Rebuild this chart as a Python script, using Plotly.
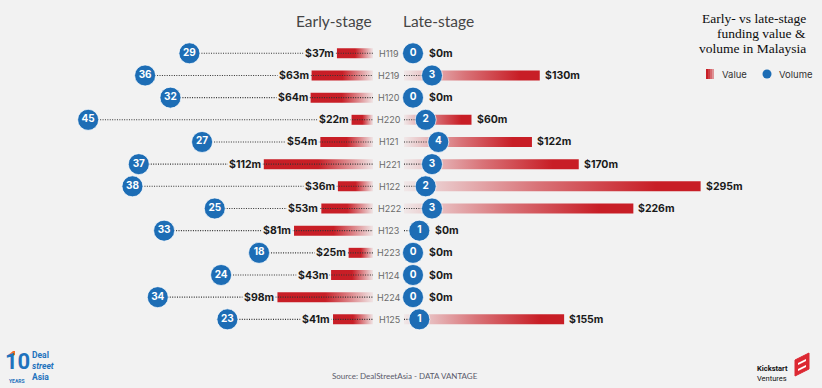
import plotly.graph_objects as go

# ---------------- data ----------------
periods = ["H119", "H219", "H120", "H220", "H121", "H221", "H122",
           "H222", "H123", "H223", "H124", "H224", "H125"]
early_value = [37, 63, 64, 22, 54, 112, 36, 53, 81, 25, 43, 98, 41]      # $m
early_volume = [29, 36, 32, 45, 27, 37, 38, 25, 33, 18, 24, 34, 23]     # deals
late_value = [0, 130, 0, 60, 122, 170, 295, 226, 0, 0, 0, 0, 155]       # $m
late_volume = [0, 3, 0, 2, 4, 3, 2, 3, 1, 0, 0, 0, 1]                   # deals

# ---------------- layout constants (pixels) ----------------
W, H = 822, 388
BG = "rgb(242,242,242)"
RED = "200,30,38"
BLUE = "#1d6db5"
L_ZERO = 373          # left zero line
R_ZERO = 413          # right zero line
R_DOM0 = 392          # right axes domain start
R_BAR_START = 404     # right bar/dotted start (px)
CENTER = 389          # period label centre
VAL_PX = 0.975        # px per $m
VOL_PX = 6.33         # px per deal
ROW0, ROW_STEP = 53.3, 22.17
BAR_HALF = 5.0 / ROW_STEP
CIRCLE_D = 21

# horizontal gradients run from pixel-left (0) to pixel-right (1)
LEFT_CS = [[0, f"rgba({RED},1)"], [0.5, f"rgba({RED},1)"], [1, f"rgba({RED},0.06)"]]
RIGHT_CS = [[0, f"rgba({RED},0.05)"], [0.45, f"rgba({RED},0.6)"], [0.85, f"rgba({RED},1)"],
            [1, f"rgba({RED},1)"]]

VAL_FONT = "Inter, 'Open Sans', sans-serif"
DOTS = dict(color="#333", width=1.1, dash="1px,1.4px")

fig = go.Figure()
n = len(periods)
rows = list(range(n))

# ---------------- bars (gradient filled polygons) ----------------
for i, v in enumerate(early_value):
    fig.add_trace(go.Scatter(
        x=[0, v, v, 0, 0], y=[i - BAR_HALF, i - BAR_HALF, i + BAR_HALF, i + BAR_HALF, i - BAR_HALF],
        mode="lines", fill="toself", line=dict(width=0, color="rgba(0,0,0,0)"),
        fillgradient=dict(type="horizontal", colorscale=LEFT_CS),
        xaxis="x", yaxis="y", hoverinfo="skip", showlegend=False))

r_start = -(R_ZERO - R_BAR_START) / VAL_PX
for i, v in enumerate(late_value):
    if v <= 0:
        continue
    fig.add_trace(go.Scatter(
        x=[r_start, v, v, r_start, r_start],
        y=[i - BAR_HALF, i - BAR_HALF, i + BAR_HALF, i + BAR_HALF, i - BAR_HALF],
        mode="lines", fill="toself", line=dict(width=0, color="rgba(0,0,0,0)"),
        fillgradient=dict(type="horizontal", colorscale=RIGHT_CS),
        xaxis="x2", yaxis="y", hoverinfo="skip", showlegend=False))

# ---------------- dotted connectors ----------------
lx, ly = [], []
for i, c in enumerate(early_volume):
    lx += [c, 0, None]
    ly += [i, i, None]
fig.add_trace(go.Scatter(x=lx, y=ly, mode="lines", line=DOTS,
                         xaxis="x3", yaxis="y", hoverinfo="skip", showlegend=False))

d_start = -(R_ZERO - R_BAR_START) / VOL_PX
rx, ry = [], []
for i, c in enumerate(late_volume):
    rx += [d_start, c, None]
    ry += [i, i, None]
fig.add_trace(go.Scatter(x=rx, y=ry, mode="lines", line=DOTS,
                         xaxis="x4", yaxis="y", hoverinfo="skip", showlegend=False))

# ---------------- volume circles ----------------
circ = dict(size=CIRCLE_D, color=BLUE, line=dict(color="rgba(255,255,255,0.7)", width=1))
num_font = dict(family=VAL_FONT, size=10, color="white", weight="bold")
fig.add_trace(go.Scatter(x=early_volume, y=rows, mode="markers+text", marker=circ,
                         text=[str(c) for c in early_volume], textposition="middle center",
                         textfont=num_font, xaxis="x3", yaxis="y", cliponaxis=False,
                         hoverinfo="skip", showlegend=False))
fig.add_trace(go.Scatter(x=late_volume, y=rows, mode="markers+text", marker=circ,
                         text=[str(c) for c in late_volume], textposition="middle center",
                         textfont=num_font, xaxis="x4", yaxis="y", cliponaxis=False,
                         hoverinfo="skip", showlegend=False))

annotations = []
val_font = dict(family=VAL_FONT, size=10.5, color="#1a1a1a", weight="bold")

# left value labels
for i, v in enumerate(early_value):
    annotations.append(dict(x=v, y=i, xref="x", yref="y", text=f"${v}m", showarrow=False,
                            xanchor="right", yanchor="middle", xshift=-1, font=val_font,
                            bgcolor=BG, borderpad=1))
# right value labels
for i, (v, c) in enumerate(zip(late_value, late_volume)):
    circle_edge = (c * VOL_PX + CIRCLE_D / 2) / VAL_PX
    annotations.append(dict(x=max(v, circle_edge), y=i, xref="x2", yref="y", text=f"${v}m",
                            showarrow=False, xanchor="left", yanchor="middle", xshift=3,
                            font=val_font))
# period labels
for i, p in enumerate(periods):
    annotations.append(dict(x=CENTER / W, y=i, xref="paper", yref="y", text=p, showarrow=False,
                            xanchor="center", yanchor="middle",
                            font=dict(family=VAL_FONT, size=9, color="#6a6a6a")))


def px(xp, yp):
    return xp / W, 1 - yp / H


# headers
for label, xc in [("Early-stage", 334), ("Late-stage", 438)]:
    x0, y0 = px(xc, 21)
    annotations.append(dict(x=x0, y=y0, xref="paper", yref="paper", text=label, showarrow=False,
                            xanchor="center", yanchor="middle",
                            font=dict(family="Lato", size=15.5, color="#454545")))

# right title
for k, line in enumerate(["Early- vs late-stage", "funding value &", "volume in Malaysia"]):
    x0, y0 = px(808, 18 + 15 * k)
    annotations.append(dict(x=x0, y=y0, xref="paper", yref="paper", text=line, showarrow=False,
                            xanchor="right", yanchor="middle",
                            font=dict(family="Liberation Serif", size=13.5, color="#0d0d0d")))

# legend
x0, y0 = px(720, 74)
annotations.append(dict(x=x0, y=y0, xref="paper", yref="paper", text="Value", showarrow=False,
                        xanchor="left", yanchor="middle", font=dict(family=VAL_FONT, size=9.5, color="#333")))
x0, y0 = px(777, 74)
annotations.append(dict(x=x0, y=y0, xref="paper", yref="paper", text="Volume", showarrow=False,
                        xanchor="left", yanchor="middle", font=dict(family=VAL_FONT, size=9.5, color="#333")))

# source
x0, y0 = px(405, 376)
annotations.append(dict(x=x0, y=y0, xref="paper", yref="paper",
                        text="Source: DealStreetAsia - DATA VANTAGE", showarrow=False,
                        xanchor="center", yanchor="middle", font=dict(family="Lato", size=8, color="#5a5a6a")))

# DealStreetAsia logo (text)
DSA = "#1f73bd"
x0, y0 = px(17, 361)
annotations.append(dict(x=x0, y=y0, xref="paper", yref="paper", text="10", showarrow=False,
                        xanchor="center", yanchor="middle",
                        font=dict(family="Roboto", size=22, color=DSA, weight="bold")))
x0, y0 = px(30, 366)
annotations.append(dict(x=x0, y=y0, xref="paper", yref="paper",
                        text="Deal<br><i>street</i><br>Asia", showarrow=False, align="left",
                        xanchor="left", yanchor="middle",
                        font=dict(family="Roboto", size=8.5, color=DSA, weight="bold")))
x0, y0 = px(17, 381)
annotations.append(dict(x=x0, y=y0, xref="paper", yref="paper", text="YEARS", showarrow=False,
                        xanchor="center", yanchor="middle",
                        font=dict(family="Roboto", size=5, color=DSA, weight="bold")))

# Kickstart logo (text)
x0, y0 = px(755, 373)
annotations.append(dict(x=x0, y=y0, xref="paper", yref="paper",
                        text="<b>Kickstart</b><br>Ventures", showarrow=False, align="left",
                        xanchor="left", yanchor="middle",
                        font=dict(family="Roboto", size=7.5, color="#111")))

shapes = []
# legend swatch with gradient steps
for k, a in enumerate([1.0, 0.85, 0.65, 0.45]):
    xa, ya = px(706 + 2 * k, 69)
    xb, yb = px(708 + 2 * k, 79)
    shapes.append(dict(type="rect", xref="paper", yref="paper", x0=xa, x1=xb, y0=yb, y1=ya,
                       fillcolor=f"rgba({RED},{a})", line=dict(width=0)))
xa, ya = px(762.5, 69.5)
xb, yb = px(771.5, 78.5)
shapes.append(dict(type="circle", xref="paper", yref="paper", x0=xa, x1=xb, y0=yb, y1=ya,
                   fillcolor=BLUE, line=dict(width=0)))


def path(points):
    s = ""
    for k, (a, b) in enumerate(points):
        xa, ya = px(a, b)
        s += ("M" if k == 0 else "L") + f"{xa},{ya} "
    return s + "Z"


shapes.append(dict(type="path", xref="paper", yref="paper",
                   path=path([(795, 360), (809, 353), (809, 369), (795, 376)]),
                   fillcolor="rgb(220,40,50)", line=dict(color="rgb(220,40,50)", width=1)))
shapes.append(dict(type="path", xref="paper", yref="paper",
                   path=path([(798, 363), (806, 359), (806, 361), (798, 365)]),
                   fillcolor="white", line=dict(width=0)))
shapes.append(dict(type="path", xref="paper", yref="paper",
                   path=path([(798, 369), (806, 365), (806, 367), (798, 371)]),
                   fillcolor="white", line=dict(width=0)))
# DSA orange tick
shapes.append(dict(type="path", xref="paper", yref="paper",
                   path=path([(7, 356), (13, 351), (15, 351), (15, 355), (10, 357)]),
                   fillcolor="rgb(240,110,40)", line=dict(width=0)))

hidden = dict(visible=False, showgrid=False, zeroline=False, fixedrange=True)
fig.update_layout(
    width=W, height=H, margin=dict(l=0, r=0, t=0, b=0),
    paper_bgcolor=BG, plot_bgcolor=BG, showlegend=False,
    xaxis=dict(domain=[0, L_ZERO / W], range=[L_ZERO / VAL_PX, 0], **hidden),
    xaxis3=dict(overlaying="x", domain=[0, L_ZERO / W], range=[L_ZERO / VOL_PX, 0], **hidden),
    xaxis2=dict(domain=[R_DOM0 / W, 1], anchor="y",
                range=[-(R_ZERO - R_DOM0) / VAL_PX, (W - R_ZERO) / VAL_PX], **hidden),
    xaxis4=dict(overlaying="x2", domain=[R_DOM0 / W, 1], anchor="y",
                range=[-(R_ZERO - R_DOM0) / VOL_PX, (W - R_ZERO) / VOL_PX], **hidden),
    yaxis=dict(domain=[0, 1], range=[(H - ROW0) / ROW_STEP, -ROW0 / ROW_STEP], **hidden),
    annotations=annotations, shapes=shapes,
)

fig.write_html("out.html", config={"displayModeBar": False},
               post_script="document.body.style.margin='0';document.body.style.overflow='hidden';")
